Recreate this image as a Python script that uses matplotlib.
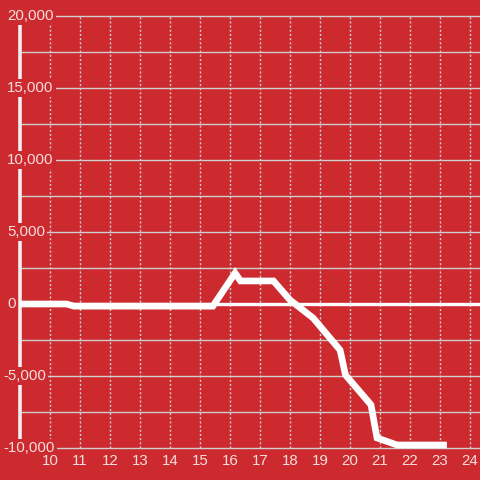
import matplotlib.pyplot as plt

# data
xs = [9.0, 10.55, 10.8, 15.43, 16.17, 16.35, 17.45, 18.0, 18.77, 19.67, 19.85, 20.7, 20.9, 21.57, 23.23]
ys = [0, 0, -150, -150, 2150, 1600, 1600, 280, -970, -3200, -4930, -7000, -9300, -9790, -9790]
x_ticks = list(range(10, 25))
y_ticks = [20000, 15000, 10000, 5000, 0, -5000, -10000]
y_minor = [17500, 12500, 7500, 2500, -2500, -7500]

BG = "#cc2a2f"
TXT = "#f7dede"
GRID = "#cfcfcf"

plt.rcParams["font.family"] = ["Liberation Sans", "DejaVu Sans"]
fig = plt.figure(figsize=(4.8, 4.8), dpi=100, facecolor=BG)
ax = fig.add_axes([0, 0, 1, 1])
ax.set_facecolor(BG)
ax.axis("off")
x0, x1 = 8 + 1 / 3, 24 + 1 / 3
ax.set_xlim(x0, x1)
ax.set_ylim(-12222, 21111)

# grid
ax.vlines(x_ticks, -10000, 20000, color=GRID, lw=1, linestyles=(0, (1.5, 1.5)), zorder=1)
ax.hlines([t for t in y_ticks if t != 0] + y_minor, 9, x1, color=GRID, lw=1, zorder=1)
ax.hlines(0, 9, x1, color="white", lw=2.4, zorder=2)
ax.vlines(9, -10000, 20000, color="#f0f0f0", lw=2.6, zorder=2)

ax.plot(xs, ys, color="white", lw=4.8, solid_capstyle="butt", solid_joinstyle="miter", zorder=3)

for t in y_ticks:
    lab = f"{t:,}"
    xp = 8.43 if t < 0 else 8.567
    ax.text(xp, t, lab, ha="left", va="center", fontsize=10.8, color=TXT, zorder=5,
            bbox=dict(boxstyle="square,pad=0.15", fc=BG, ec="none"))

for t in x_ticks:
    ax.text(t, -10000 - 13 * 5000 / 72, str(t), ha="center", va="center", fontsize=10.8, color=TXT, zorder=5)

fig.savefig("out.png", dpi=100, facecolor=BG)
